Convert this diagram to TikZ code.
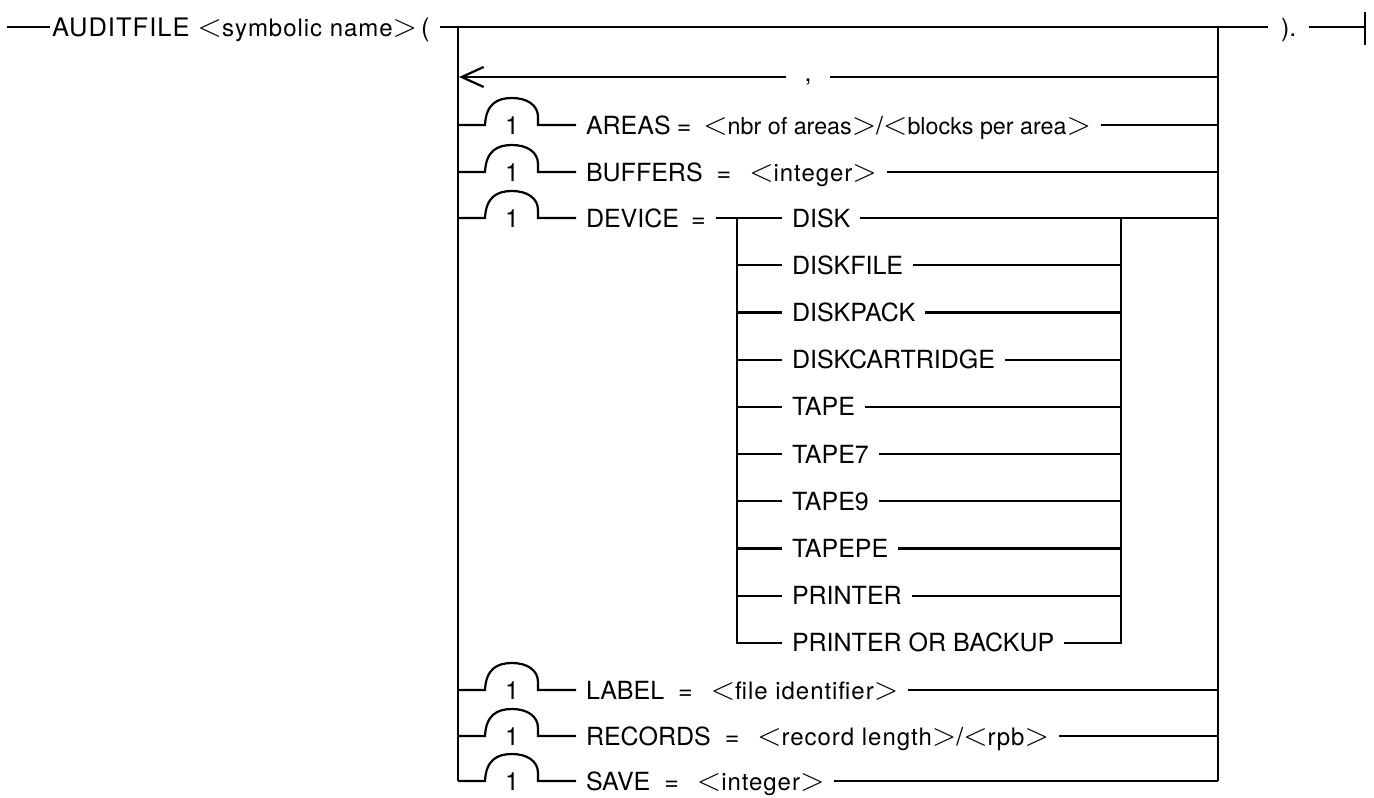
\RequirePackage{fix-cm}
\documentclass[tikz,border=0pt]{standalone}
\usepackage{fontspec}
\setmainfont{TeX Gyre Heros}
\usetikzlibrary{arrows.meta}
\newcommand\bkt{\fontsize{32}{32}\selectfont}
\newcommand\lc{\fontsize{24}{24}\selectfont\addfontfeature{LetterSpace=4}}
\newcommand\lcn{\fontsize{23.3}{23.3}\selectfont}
\newcommand\nt[1]{{\bkt$<$}{\lc#1}{\bkt$>$}}
\newcommand\ntn[1]{{\bkt$<$}{\lcn#1}{\bkt$>$}}
\newcommand\eqA{\hspace{6pt}=\hspace{12pt}}
\newcommand\eqB{\hspace{14pt}=\hspace{18pt}}
\newcommand\archrow[2]{%
  \draw (458,#1) -- (485,#1) .. controls (486,#1-21) and (497,#1-27) .. (512,#1-27)
        .. controls (527,#1-27) and (538,#1-20) .. (538,#1-8) -- (538,#1) -- (#2.west);
  \node[num] at (512,#1) {1};
}
\begin{document}
\begin{tikzpicture}[x=1pt,y=-1pt,line width=2.2pt,
  txt/.style={anchor=west,inner xsep=10pt,inner ysep=0pt,outer sep=0pt,text height=18pt,text depth=0pt,font=\fontsize{25}{25}\selectfont},
  num/.style={inner sep=0pt,text height=18pt,text depth=0pt,font=\fontsize{25}{25}\selectfont}]
\useasboundingbox (0,0) rectangle (1374,798);

% header
\coordinate (start) at (7,27);
\node[txt,font=\fontsize{25.5}{25.5}\selectfont\addfontfeature{LetterSpace=4},text height=18.4pt,inner xsep=2pt] (head) at (50,27) {AUDITFILE\ \nt{symbolic name}\hspace{4pt}(};
\coordinate (topstart) at ([xshift=8pt]head.east);
\node[txt,inner xsep=13pt] (close) at (1268,27) {).};
\coordinate (endc) at (1365,27);
\draw (start) -- (head.west);
\draw (topstart) -- (close.west);
\draw (close.east) -- (endc);
\draw (1365,12) -- (1365,45);

% main verticals
\draw (458,27) -- (458,781);
\draw (1218,27) -- (1218,781);

% comma row
\node[anchor=base,inner xsep=17pt,inner ysep=0pt,font=\fontsize{25}{25}\selectfont] (comma) at (808,81) {,};
\draw (1218,77) -- (comma.east |- 0,77);
\draw[-{Straight Barb[length=22pt,width=20pt]}] (comma.west |- 0,77) -- (459,77);

% options
\node[txt] (areas) at (576,125) {AREAS\eqA\ntn{nbr of areas}/\ntn{blocks per area}};
\archrow{125}{areas}
\draw (areas.east) -- (1218,125);

\node[txt] (buffers) at (576,172) {BUFFERS\eqB\nt{integer}};
\archrow{172}{buffers}
\draw (buffers.east) -- (1218,172);

\node[txt] (device) at (576,218) {DEVICE\hspace{12pt}=};
\archrow{218}{device}

\node[txt] (disk) at (782,218) {DISK};
\node[txt] (diskfile) at (782,265.2) {DISKFILE};
\node[txt] (diskpack) at (782,312.4) {DISKPACK};
\node[txt] (diskcart) at (782,359.6) {DISKCARTRIDGE};
\node[txt] (tape) at (782,406.8) {TAPE};
\node[txt] (tapes) at (782,454) {TAPE7};
\node[txt] (tapen) at (782,501.2) {TAPE9};
\node[txt] (tapepe) at (782,548.4) {TAPEPE};
\node[txt] (printer) at (782,595.6) {PRINTER};
\node[txt] (pob) at (782,642.8) {PRINTER OR BACKUP};

\draw (device.east) -- (disk.west);
\draw (disk.east) -- (1218,218);
\draw (737,218) -- (737,642.8) -- (pob.west);
\draw (1121,218) -- (1121,642.8) -- (pob.east);
\foreach \n in {diskfile,diskpack,diskcart,tape,tapes,tapen,tapepe,printer}{
  \draw (737,0 |- \n.west) -- (\n.west);
  \draw (\n.east) -- (1121,0 |- \n.east);
}

\node[txt] (label) at (576,690) {LABEL\eqB\nt{file identifier}};
\archrow{690}{label}
\draw (label.east) -- (1218,690);

\node[txt] (records) at (576,736) {RECORDS\eqB\nt{record length}/\nt{rpb}};
\archrow{736}{records}
\draw (records.east) -- (1218,736);

\node[txt] (save) at (576,781) {SAVE\eqB\nt{integer}};
\archrow{781}{save}
\draw (save.east) -- (1218,781);
\end{tikzpicture}
\end{document}
